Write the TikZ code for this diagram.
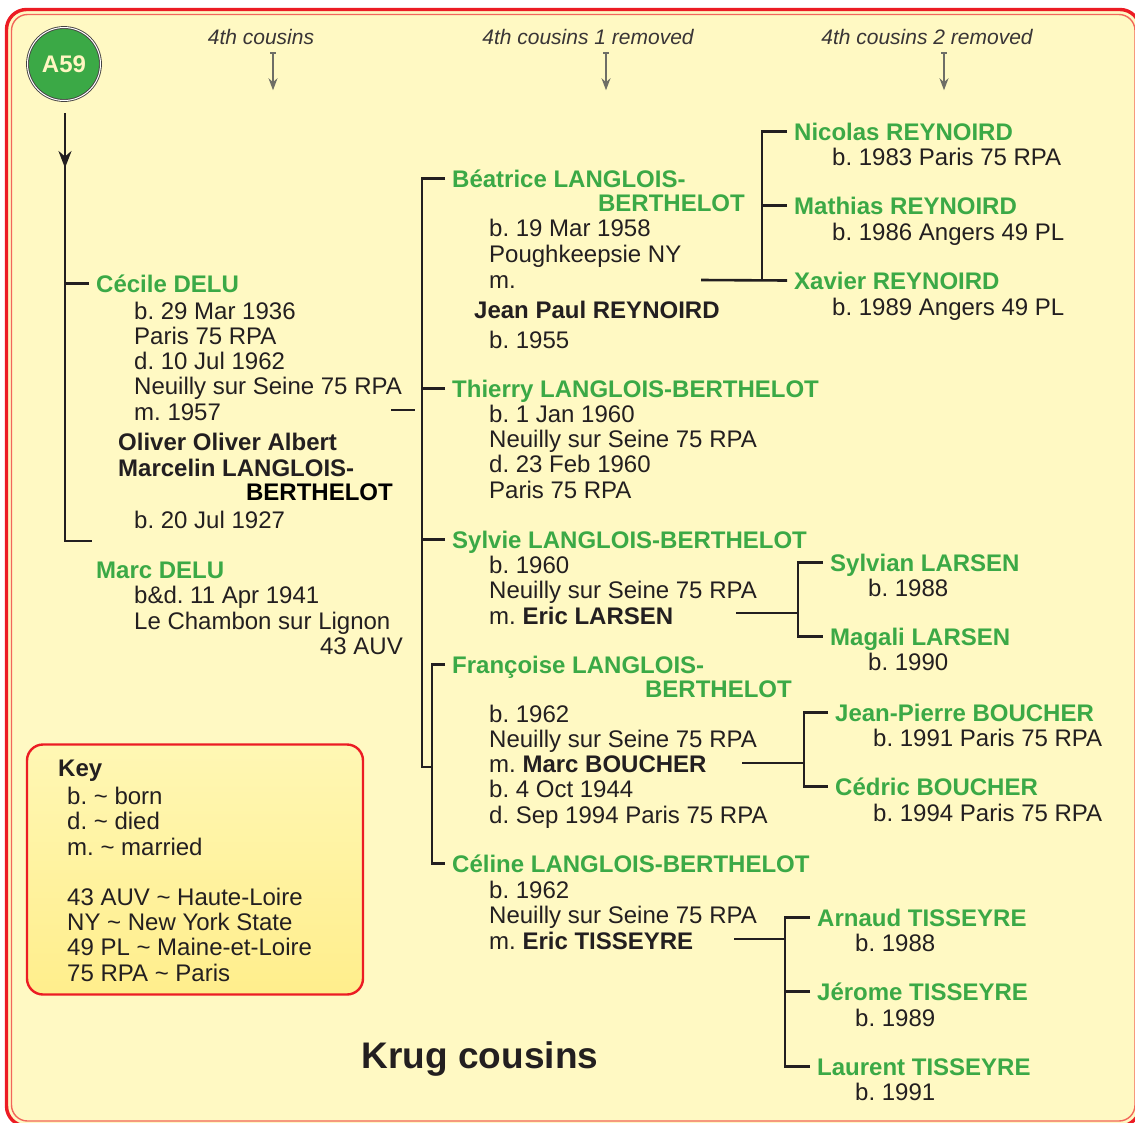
\documentclass[tikz,border=0pt]{standalone}
\usepackage{fontspec}
\setmainfont{Liberation Sans}
\usetikzlibrary{arrows.meta, positioning}

\definecolor{famgreen}{HTML}{3BA946}
\definecolor{inkblack}{HTML}{231F20}
\definecolor{cream}{HTML}{FFF9C3}
\definecolor{keytop}{HTML}{FFF7B4}
\definecolor{keybottom}{HTML}{FFEE8C}
\definecolor{framered}{HTML}{EC1C24}
\definecolor{framesalmon}{HTML}{F2665A}
\definecolor{hdrgray}{HTML}{6E6E66}
\definecolor{paleyellow}{HTML}{FFF6C2}

\newcommand{\bodysize}{\fontsize{24}{25.2}\selectfont}
\frenchspacing

\begin{document}
\begin{tikzpicture}[
  x=1pt, y=-1pt,
  person/.style={anchor=base west, font=\bfseries\bodysize, text=famgreen,
    inner xsep=7pt, inner ysep=0pt, text height=17pt, text depth=0pt},
  tailname/.style={anchor=base east, font=\bfseries\bodysize, inner sep=0pt},
  info/.style={anchor=base west, align=left, font=\bodysize, text=inkblack, inner sep=0pt},
  spouse/.style={info, font=\bfseries\bodysize},
  hdr/.style={anchor=base, font=\itshape\fontsize{21}{24}\selectfont, text=inkblack!90},
  hdrarrow/.style={draw=hdrgray, line width=1.4pt, {Bar[width=6pt]}-{Stealth[length=12pt, width=9pt]}},
  link/.style={draw=inkblack, line width=2.6pt}
]
\useasboundingbox (0,0) rectangle (1135,1122);

% frame
\draw[framered, line width=3.4pt, rounded corners=20pt, fill=cream] (6.5,9.5) rectangle (1140,1126);
\draw[framesalmon, line width=1.4pt, rounded corners=16pt] (11.5,14.5) rectangle (1135,1121);

% headers
\node[hdr] (gen1) at (261,44.5) {4th cousins};
\node[hdr] (gen2) at (588,44.5) {4th cousins 1 removed};
\node[hdr] (gen3) at (927,44.5) {4th cousins 2 removed};
\draw[hdrarrow] ([xshift=12pt, yshift=-4pt]gen1.south) -- ++(0,38);
\draw[hdrarrow] ([xshift=18pt, yshift=-4pt]gen2.south) -- ++(0,38);
\draw[hdrarrow] ([xshift=17pt, yshift=-4pt]gen3.south) -- ++(0,38);

% ancestor
\node[circle, minimum size=73pt, fill=famgreen, draw=inkblack!85, double=white,
  double distance=1pt, line width=0.9pt, text=paleyellow,
  font=\bfseries\fontsize{24}{26}\selectfont] (a59) at (64,64) {A59};

% 4th cousins (info nodes anchored at the baseline of their last line)
\node[person] (cecile) at (89,292) {Cécile DELU};
\node[info] (cecileinfo) at (134,420) {b. 29 Mar 1936\\Paris 75 RPA\\d. 10 Jul 1962\\Neuilly sur Seine 75 RPA\\m. 1957};
\node[spouse] (oliver) at (118,476) {Oliver Oliver Albert\\Marcelin LANGLOIS-};
\node[tailname] (oliver2) at (393,500) {BERTHELOT};
\node[info] (oliverinfo) at (134,528) {b. 20 Jul 1927};
\node[person] (marc) at (89,578) {Marc DELU};
\node[info] (marcinfo) at (134,629) {b\&d. 11 Apr 1941\\Le Chambon sur Lignon};
\node[info, anchor=base east] (marcplace) at (403,654) {43 AUV};

% 4th cousins 1 removed
\node[person] (beatrice) at (445,187) {Béatrice LANGLOIS-};
\node[tailname, text=famgreen] (beatrice2) at (745,211) {BERTHELOT};
\node[info, font=\fontsize{24}{26}\selectfont] (beatriceinfo) at (489,288) {b. 19 Mar 1958\\Poughkeepsie NY\\m.};
\node[spouse] (jeanpaul) at (474,318) {Jean Paul REYNOIRD};
\node[info] (jeanpaulinfo) at (489,348) {b. 1955};

\node[person] (thierry) at (445,397) {Thierry LANGLOIS-BERTHELOT};
\node[info] (thierryinfo) at (489,498) {b. 1 Jan 1960\\Neuilly sur Seine 75 RPA\\d. 23 Feb 1960\\Paris 75 RPA};

\node[person] (sylvie) at (445,548) {Sylvie LANGLOIS-BERTHELOT};
\node[info] (sylvieinfo) at (489,624) {b. 1960\\Neuilly sur Seine 75 RPA\\m. \textbf{Eric LARSEN}};

\node[person] (francoise) at (445,673) {Françoise LANGLOIS-};
\node[tailname, text=famgreen] (francoise2) at (792,697) {BERTHELOT};
\node[info] (francoiseinfo) at (489,823) {b. 1962\\Neuilly sur Seine 75 RPA\\m. \textbf{Marc BOUCHER}\\b. 4 Oct 1944\\d. Sep 1994 Paris 75 RPA};

\node[person] (celine) at (445,872) {Céline LANGLOIS-BERTHELOT};
\node[info] (celineinfo) at (489,949) {b. 1962\\Neuilly sur Seine 75 RPA\\m. \textbf{Eric TISSEYRE}};

% 4th cousins 2 removed
\node[person] (nicolas) at (787,140) {Nicolas REYNOIRD};
\node[info] (nicolasinfo) at (832,165) {b. 1983 Paris 75 RPA};
\node[person] (mathias) at (787,214) {Mathias REYNOIRD};
\node[info] (mathiasinfo) at (832,240) {b. 1986 Angers 49 PL};
\node[person] (xavier) at (787,289) {Xavier REYNOIRD};
\node[info] (xavierinfo) at (832,315) {b. 1989 Angers 49 PL};

\node[person] (sylvian) at (823,571) {Sylvian LARSEN};
\node[info] (sylvianinfo) at (868,596) {b. 1988};
\node[person] (magali) at (823,645) {Magali LARSEN};
\node[info] (magaliinfo) at (868,670) {b. 1990};

\node[person] (jeanpierre) at (828,721) {Jean-Pierre BOUCHER};
\node[info] (jeanpierreinfo) at (873,746) {b. 1991 Paris 75 RPA};
\node[person] (cedric) at (828,795) {Cédric BOUCHER};
\node[info] (cedricinfo) at (873,821) {b. 1994 Paris 75 RPA};

\node[person] (arnaud) at (810,926) {Arnaud TISSEYRE};
\node[info] (arnaudinfo) at (855,951) {b. 1988};
\node[person] (jerome) at (810,1000) {Jérome TISSEYRE};
\node[info] (jeromeinfo) at (855,1026) {b. 1989};
\node[person] (laurent) at (810,1075) {Laurent TISSEYRE};
\node[info] (laurentinfo) at (855,1100) {b. 1991};

% key
\node[draw=framered, line width=2.4pt, rounded corners=16pt, top color=keytop,
  bottom color=keybottom, minimum width=336pt, minimum height=250pt] (keybox) at (195,869.5) {};
\node[info, font=\bfseries\bodysize] (keytitle) at (58,776) {Key};
\node[info] (keyinfo) at (67,981) {b. \textasciitilde{} born\\d. \textasciitilde{} died\\m. \textasciitilde{} married\\[25.2pt]43 AUV \textasciitilde{} Haute-Loire\\NY \textasciitilde{} New York State\\49 PL \textasciitilde{} Maine-et-Loire\\75 RPA \textasciitilde{} Paris};

\node[anchor=base, font=\bfseries\fontsize{37}{40}\selectfont, text=inkblack] (title) at (480,1068) {Krug cousins};

% connectors
\coordinate (spinetop) at (65,113);
\coordinate (spinetip) at (65,168);
\coordinate (marcjoin) at (92,541);
\draw[link] (spinetop) |- (marcjoin);
\draw[link, -{Stealth[length=17pt, width=13pt]}] (spinetop) -- (spinetip);
\draw[link] (cecile.west) -- (cecile.west -| spinetop);

\coordinate (cecilem) at (391,410);
\coordinate (cecilemend) at (415,410);
\draw[link] (cecilem) -- (cecilemend);

\coordinate (sibline) at (422,767);
\coordinate (twinbar) at (432,767);
\draw[link] (beatrice.west) -| (sibline) -- (twinbar);
\draw[link] (thierry.west) -- (thierry.west -| sibline);
\draw[link] (sylvie.west) -- (sylvie.west -| sibline);
\draw[link] (francoise.west) -| (twinbar) |- (celine.west);

\coordinate (beatm) at (701,280);
\coordinate (reybar) at (762,280);
\draw[link] (beatm) -- (xavier.west);
\draw[link] (nicolas.west) -| (reybar);
\draw[link] (mathias.west) -- (mathias.west -| reybar);

\coordinate (sylviem) at (736,613);
\coordinate (larsenbar) at (798,613);
\draw[link] (sylviem) -- (larsenbar);
\draw[link] (sylvian.west) -| (larsenbar) |- (magali.west);

\coordinate (francoisem) at (742,763);
\coordinate (boucherbar) at (804,763);
\draw[link] (francoisem) -- (boucherbar);
\draw[link] (jeanpierre.west) -| (boucherbar) |- (cedric.west);

\coordinate (celinem) at (734,939);
\coordinate (tisbar) at (785,939);
\draw[link] (celinem) -- (tisbar);
\draw[link] (arnaud.west) -| (tisbar) |- (laurent.west);
\draw[link] (jerome.west) -- (jerome.west -| tisbar);
\end{tikzpicture}
\end{document}
